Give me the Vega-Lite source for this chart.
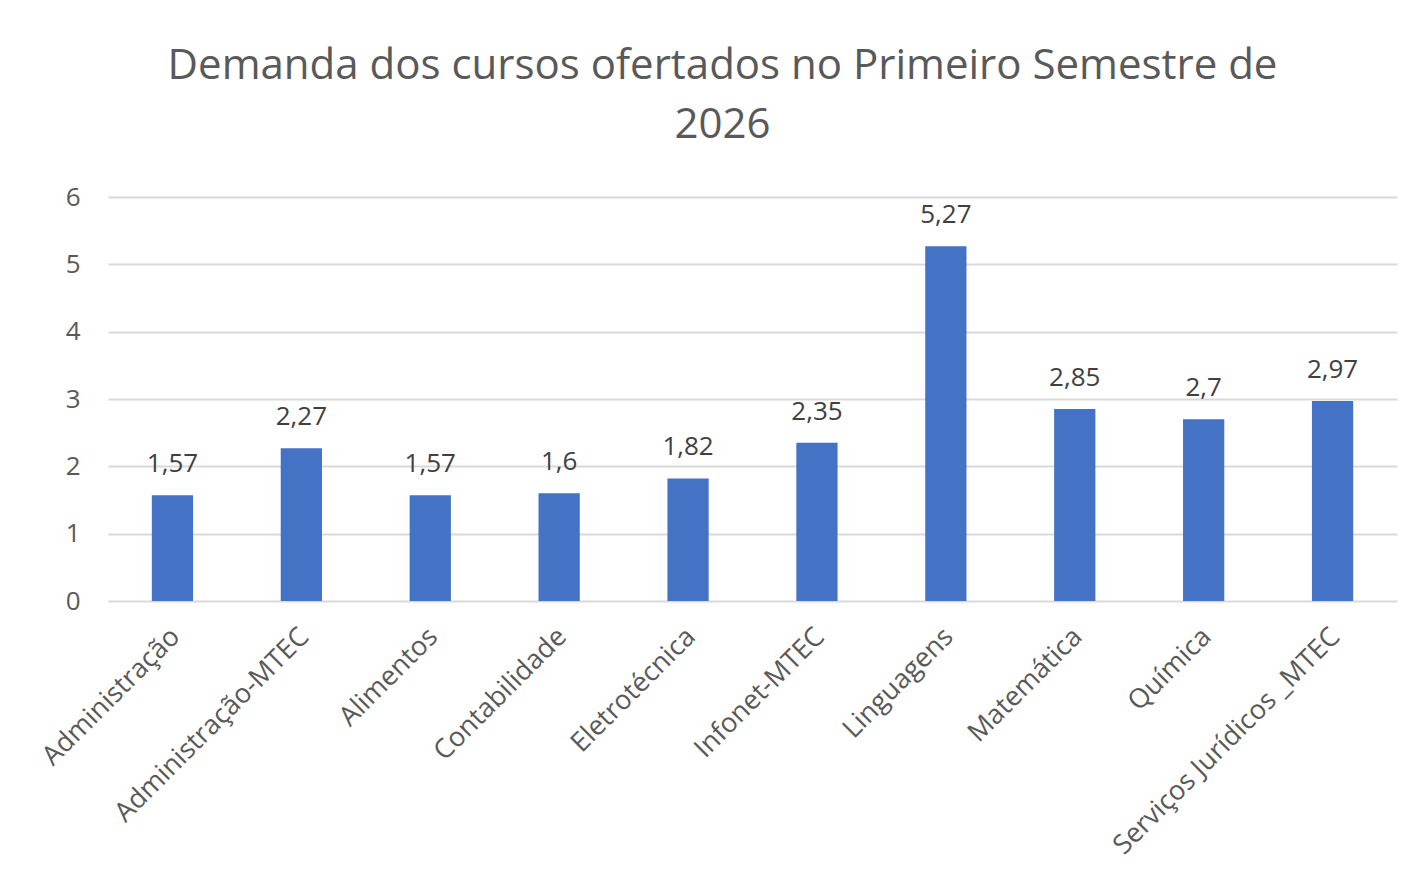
{
  "$schema": "https://vega.github.io/schema/vega-lite/v6.json",
  "autosize": "none",
  "width": 1289,
  "height": 404,
  "padding": {"left": 108, "top": 197, "right": 29, "bottom": 289},
  "background": "white",
  "config": {
    "locale": {"number": {"decimal": ",", "thousands": ".", "grouping": [3], "currency": ["R$", ""]}},
    "view": {"stroke": null},
    "font": "Open Sans"
  },
  "title": {
    "text": ["Demanda dos cursos ofertados no Primeiro Semestre de", "2026"],
    "fontSize": 42,
    "fontWeight": "normal",
    "color": "#595959",
    "lineHeight": 59,
    "anchor": "middle",
    "dx": -30,
    "offset": 37
  },
  "data": {
    "values": [
      {"curso": "Administração", "demanda": 1.57},
      {"curso": "Administração-MTEC", "demanda": 2.27},
      {"curso": "Alimentos", "demanda": 1.57},
      {"curso": "Contabilidade", "demanda": 1.6},
      {"curso": "Eletrotécnica", "demanda": 1.82},
      {"curso": "Infonet-MTEC", "demanda": 2.35},
      {"curso": "Linguagens", "demanda": 5.27},
      {"curso": "Matemática", "demanda": 2.85},
      {"curso": "Química", "demanda": 2.7},
      {"curso": "Serviços Jurídicos _MTEC", "demanda": 2.97}
    ]
  },
  "encoding": {
    "x": {
      "field": "curso",
      "type": "nominal",
      "sort": null,
      "scale": {"paddingInner": 0.68, "paddingOuter": 0.34},
      "axis": {
        "title": null,
        "labelAngle": -45,
        "labelAlign": "right",
        "labelBaseline": "top",
        "labelFontSize": 27,
        "labelColor": "#595959",
        "labelPadding": 22,
        "labelOffset": -6,
        "ticks": false,
        "domain": false,
        "labelLimit": 400
      }
    },
    "y": {
      "field": "demanda",
      "type": "quantitative",
      "scale": {"domain": [0, 6]},
      "axis": {
        "title": null,
        "values": [0, 1, 2, 3, 4, 5, 6],
        "labelFontSize": 26,
        "labelColor": "#595959",
        "labelPadding": 28,
        "ticks": false,
        "domain": false,
        "gridColor": "#d9d9d9",
        "gridWidth": 2
      }
    }
  },
  "layer": [
    {"mark": {"type": "bar", "color": "#4472C4"}},
    {
      "mark": {"type": "text", "baseline": "alphabetic", "dy": -23, "fontSize": 26, "color": "#404040"},
      "encoding": {"text": {"field": "demanda", "type": "quantitative", "format": ".3~g"}}
    }
  ]
}
